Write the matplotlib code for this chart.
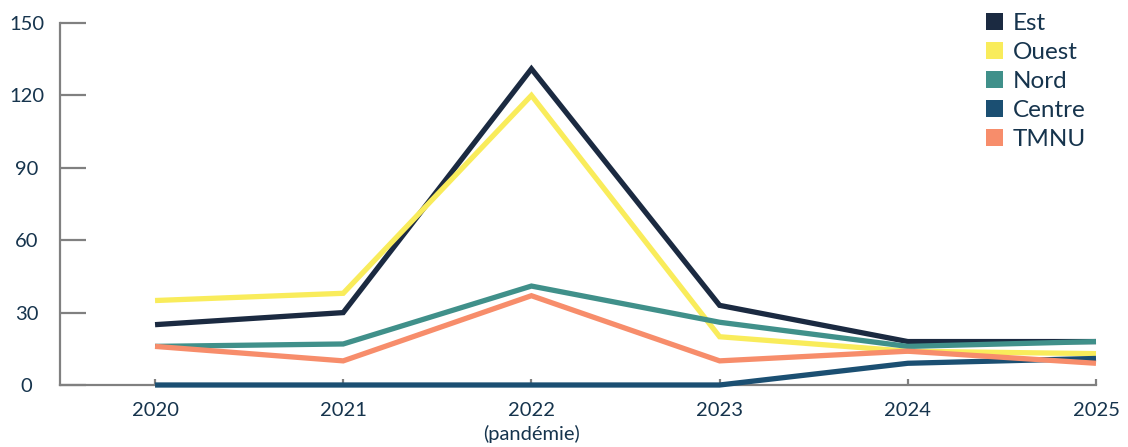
import matplotlib
matplotlib.use("Agg")
import matplotlib.pyplot as plt
from matplotlib.patches import Rectangle

years = ["2020", "2021", "2022\n(pandémie)", "2023", "2024", "2025"]
est = [25, 30, 131, 33, 18, 18]
ouest = [35, 38, 120, 20, 14, 13]
nord = [16, 17, 41, 26, 16, 18]
centre = [0, 0, 0, 0, 9, 11]
tmnu = [16, 10, 37, 10, 14, 9]

series_names = ["Est", "Ouest", "Nord", "Centre", "TMNU"]
series_values = [est, ouest, nord, centre, tmnu]
colors = ["#1b2a41", "#f9ec5b", "#40908a", "#1b4f72", "#f78d6b"]
yticks = [0, 30, 60, 90, 120, 150]

text_color = "#16344d"
axis_color = "#808080"

plt.rcParams["font.family"] = ["Lato", "DejaVu Sans"]

fig = plt.figure(figsize=(11.28, 4.47), dpi=100)
ax = fig.add_axes([60 / 1128, 1 - 385 / 447, (1096 - 60) / 1128, (385 - 23) / 447])

x = list(range(len(years)))
for name, vals, c in zip(series_names, series_values, colors):
    ax.plot(x, vals, color=c, lw=3.8, solid_joinstyle="miter",
            solid_capstyle="butt", clip_on=False, zorder=3)

ax.set_xlim(-0.505, len(years) - 1)
ax.set_ylim(0, 150)
ax.set_xticks(x)
ax.set_xticklabels(years, fontsize=14.5, color=text_color, linespacing=1.4)
ax.set_yticks(yticks)
ax.set_yticklabels([str(v) for v in yticks], fontsize=14.5, color=text_color)
for lab in ax.get_yticklabels():
    lab.set_horizontalalignment("center")

ax.tick_params(axis="y", direction="in", length=19, width=1.6, color=axis_color, pad=24)
ax.tick_params(axis="x", direction="in", length=4, width=1.6, color=axis_color, pad=12)

for side in ["top", "right"]:
    ax.spines[side].set_visible(False)
for side in ["left", "bottom"]:
    ax.spines[side].set_color(axis_color)
    ax.spines[side].set_linewidth(1.6)

handles = [Rectangle((0, 0), 1, 1, facecolor=c, edgecolor="none") for c in colors]
leg = fig.legend(handles, series_names, loc="upper left",
                 bbox_to_anchor=(986 / 1128, 0.972), frameon=False,
                 fontsize=17.5, handlelength=0.7, handleheight=0.7,
                 handletextpad=0.41, labelspacing=0.33, borderpad=0,
                 borderaxespad=0)
for t in leg.get_texts():
    t.set_color(text_color)

fig.savefig("out.png", dpi=100)
